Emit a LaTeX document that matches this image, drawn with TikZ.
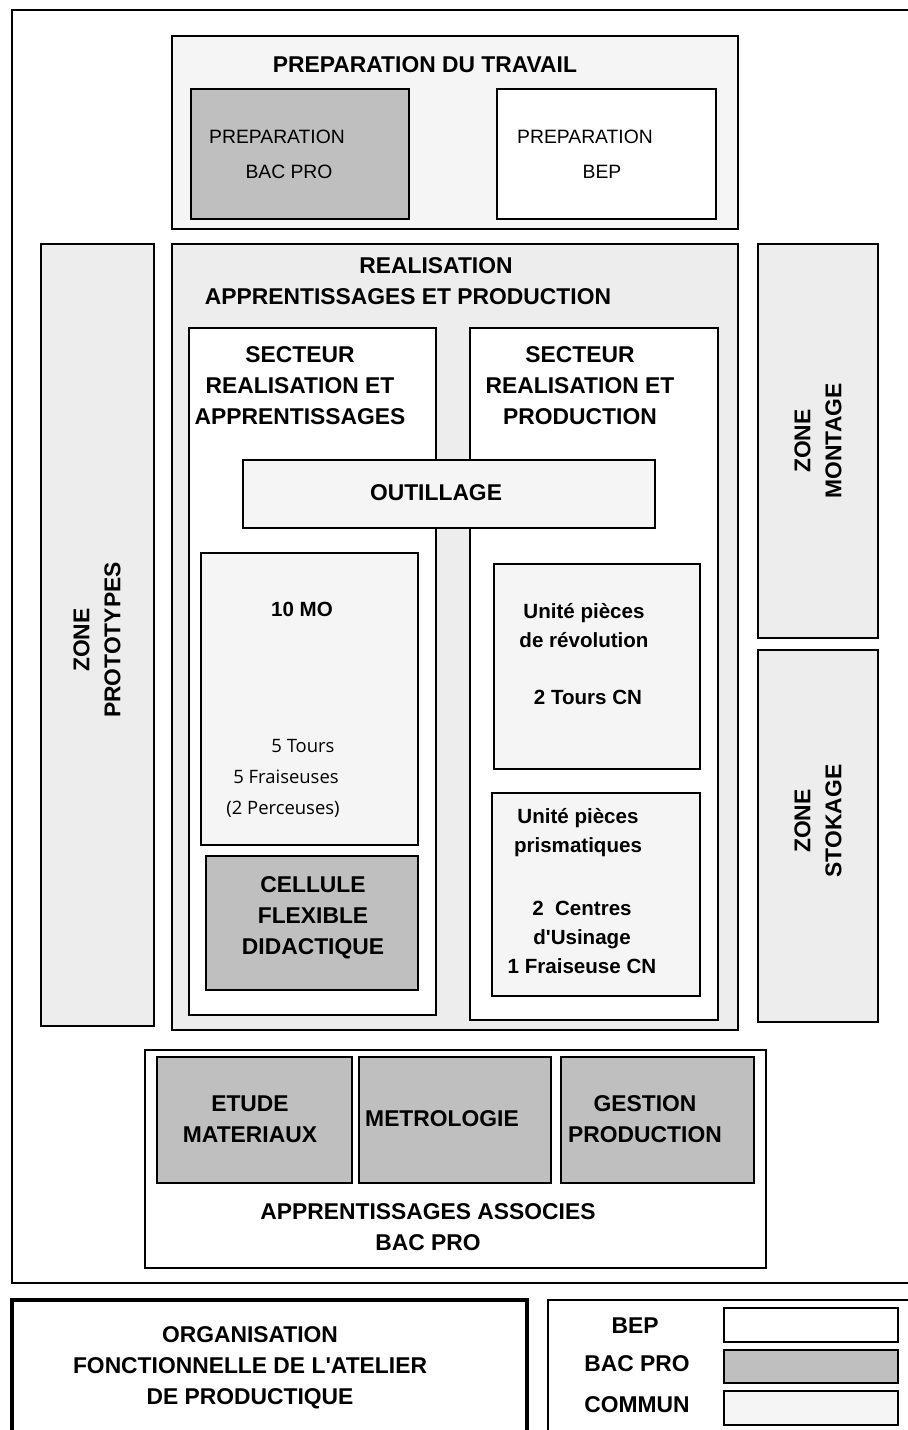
\documentclass[tikz,border=0pt]{standalone}
\usepackage{fontspec}
\newfontfamily\arialfont{Liberation Sans}
\newfontfamily\machfont{Open Sans}
\usetikzlibrary{positioning}
\definecolor{bacpro}{gray}{0.75}
\definecolor{commun}{gray}{0.96}
\definecolor{zonegray}{gray}{0.93}
\tikzset{box/.style = {draw, line width = 1.1pt},
  bac/.style = {box, fill = bacpro},
  com/.style = {box, fill = commun},
  zon/.style = {box, fill = zonegray},
  title/.style = {font = \fontsize{13}{17.6}\selectfont\arialfont\bfseries, align = center, inner sep = 0},
  unit/.style = {font = \fontsize{11.7}{16.5}\selectfont\arialfont\bfseries, align = center, inner sep = 0},
  plain/.style = {font = \fontsize{11}{13}\selectfont\arialfont, inner sep = 0},
  mach/.style = {font = \fontsize{10.5}{13}\selectfont\machfont, inner sep = 0}}

\begin{document}
\begin{tikzpicture}[x = 0.02cm, y = -0.02cm]
    \useasboundingbox (0, 0) rectangle (908, 1430);
    \draw [box] (12, 10) rectangle (920, 1283);

    % preparation
    \draw [com] (172, 36) rectangle (738, 229);
    \node [title] (prep) at (425, 65) {PREPARATION DU TRAVAIL};
    \draw [bac] (191, 89) rectangle (409, 219);
    \node [plain] (prepbac) at (277, 137) {PREPARATION};
    \node [plain] (prepbacb) at (289, 172) {BAC PRO};
    \draw [box, fill = white] (497, 89) rectangle (716, 219);
    \node [plain] (prepbep) at (585, 137) {PREPARATION};
    \node [plain] (prepbepb) at (602, 172) {BEP};

    % zones
    \draw [zon] (41, 244) rectangle (154, 1026);
    \node [title, rotate = 90] (proto) at (97, 640) {ZONE\\PROTOTYPES};
    \draw [zon] (758, 244) rectangle (878, 638);
    \node [title, rotate = 90] (montage) at (818, 441) {ZONE\\MONTAGE};
    \draw [zon] (758, 650) rectangle (878, 1022);
    \node [title, rotate = 90] (stock) at (818, 821) {ZONE\\STOKAGE};

    % realisation
    \draw [zon] (172, 244) rectangle (738, 1030);
    \node [title] (real) at (436, 266) {REALISATION};
    \node [title] (realb) at (408, 297) {APPRENTISSAGES ET PRODUCTION};
    \draw [box, fill = white] (189, 328) rectangle (436, 1015);
    \node [title] (secapp) at (300, 386) {SECTEUR\\REALISATION ET\\APPRENTISSAGES};
    \draw [box, fill = white] (470, 328) rectangle (718, 1020);
    \node [title] (secprod) at (580, 386) {SECTEUR\\REALISATION ET\\PRODUCTION};
    \draw [com] (243, 460) rectangle (655, 528);
    \node [title] (outil) at (436, 493) {OUTILLAGE};

    \draw [com] (201, 553) rectangle (418, 845);
    \node [unit] (mo) at (302, 609) {10 MO};
    \node [mach] (tours) at (303, 746) {5 Tours};
    \node [mach] (fraise) at (286, 777) {5 Fraiseuses};
    \node [mach] (perce) at (283, 809) {(2 Perceuses)};
    \draw [bac] (206, 856) rectangle (418, 990);
    \node [title] (cellule) at (313, 918) {CELLULE\\FLEXIBLE\\DIDACTIQUE};

    \draw [com] (494, 564) rectangle (700, 769);
    \node [unit] (revol) at (584, 626) {Unit\'e pi\`eces\\de r\'evolution};
    \node [unit] (revolb) at (588, 697) {2 Tours CN};
    \draw [com] (492, 793) rectangle (700, 996);
    \node [unit] (prism) at (578, 833) {Unit\'e pi\`eces\\prismatiques};
    \node [unit] (prismb) at (582, 937) {2~ Centres\\d'Usinage\\1 Fraiseuse CN};

    % apprentissages associes
    \draw [box, fill = white] (145, 1050) rectangle (766, 1268);
    \draw [bac] (157, 1057) rectangle (352, 1183);
    \node [title] (etude) at (250, 1119) {ETUDE\\MATERIAUX};
    \draw [bac] (359, 1057) rectangle (551, 1183);
    \node [title] (metro) at (442, 1119) {METROLOGIE};
    \draw [bac] (561, 1057) rectangle (754, 1183);
    \node [title] (gestion) at (645, 1119) {GESTION\\PRODUCTION};
    \node [title] (assoc) at (428, 1227) {APPRENTISSAGES ASSOCIES\\BAC PRO};

    % cartouche
    \draw [line width = 2.3pt] (12, 1300) rectangle (527, 1445);
    \node [title] (orga) at (250, 1368) {ORGANISATION\\FONCTIONNELLE DE L'ATELIER\\DE PRODUCTIQUE};

    % legende
    \draw [box] (548, 1300) rectangle (920, 1445);
    \node [title] (lbep) at (635, 1326) {BEP};
    \node [title] (lbac) at (637, 1364) {BAC PRO};
    \node [title] (lcom) at (637, 1405) {COMMUN};
    \draw [box, fill = white] (724, 1308) rectangle (898, 1342);
    \draw [bac] (724, 1350) rectangle (898, 1383);
    \draw [com] (724, 1391) rectangle (898, 1425);
  \end{tikzpicture}
\end{document}
